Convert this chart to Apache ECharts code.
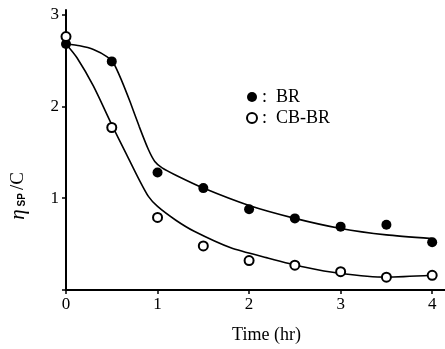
<!DOCTYPE html>
<html>
<head>
<meta charset="utf-8">
<script src="https://cdn.jsdelivr.net/npm/echarts@6/dist/echarts.min.js"></script>
<style>
  html, body { margin: 0; padding: 0; background: #fff; }
  #chart { width: 445px; height: 349px; }
</style>
</head>
<body>
<div id="chart"></div>
<script>
// measured points (time in hr, eta_sp/C)
const brPoints = [[0, 2.68], [0.5, 2.49], [1, 1.28], [1.5, 1.11], [2, 0.88], [2.5, 0.78], [3, 0.69], [3.5, 0.71], [4, 0.52]];
const cbbrPoints = [[0, 2.76], [0.5, 1.77], [1, 0.79], [1.5, 0.48], [2, 0.32], [2.5, 0.27], [3, 0.2], [3.5, 0.14], [4, 0.16]];

// hand drawn trend curves
const brCurve = [[0, 2.68], [0.15, 2.66], [0.3, 2.62], [0.45, 2.54], [0.52, 2.47], [0.6, 2.3], [0.7, 2.05], [0.8, 1.78], [0.9, 1.53], [0.97, 1.4], [1.05, 1.33], [1.2, 1.25], [1.5, 1.11], [2, 0.92], [2.5, 0.78], [3, 0.67], [3.5, 0.6], [4, 0.56]];
const cbbrCurve = [[0, 2.68], [0.12, 2.53], [0.3, 2.22], [0.5, 1.8], [0.65, 1.5], [0.8, 1.2], [0.9, 1.02], [1.0, 0.91], [1.2, 0.76], [1.4, 0.64], [1.8, 0.46], [2.2, 0.35], [2.6, 0.25], [3.0, 0.18], [3.5, 0.14], [4, 0.16]];

const xTicks = [0, 1, 2, 3, 4];
const yTicks = [0, 1, 2, 3];
const yLabels = [1, 2, 3];

const serif = '"Liberation Serif", "DejaVu Serif", serif';

const chart = echarts.init(document.getElementById('chart'));

const curveStyle = { color: '#000', width: 1.6 };

chart.setOption({
  animation: false,
  backgroundColor: '#fff',
  grid: { left: 66, right: 0, top: 10, bottom: 58 },
  legend: {
    orient: 'vertical',
    left: 241,
    top: 83,
    itemWidth: 10,
    itemHeight: 10,
    itemGap: 3,
    icon: 'circle',
    data: ['BR', 'CB-BR'],
    formatter: name => ':  ' + name,
    textStyle: { fontFamily: serif, fontSize: 18, lineHeight: 18, color: '#000' }
  },
  xAxis: {
    type: 'value',
    min: 0,
    max: 4.14,
    interval: 1,
    name: 'Time (hr)',
    nameLocation: 'middle',
    nameGap: 36,
    nameTextStyle: { fontFamily: serif, fontSize: 18, color: '#000', padding: [0, 0, 0, 22] },
    axisLine: { lineStyle: { color: '#000', width: 2 } },
    axisTick: { show: true, length: 4, customValues: xTicks, lineStyle: { color: '#000', width: 1.5 } },
    axisLabel: { customValues: xTicks, margin: 6, fontFamily: serif, fontSize: 17, color: '#000' },
    splitLine: { show: false }
  },
  yAxis: {
    type: 'value',
    min: 0,
    max: 3.05,
    interval: 1,
    axisLine: { show: true, lineStyle: { color: '#000', width: 2 } },
    axisTick: { show: true, length: 4, customValues: yTicks, lineStyle: { color: '#000', width: 1.5 } },
    axisLabel: { customValues: yLabels, margin: 7, fontFamily: serif, fontSize: 17, color: '#000' },
    splitLine: { show: false }
  },
  graphic: [{
    type: 'text',
    x: 18,
    y: 196,
    rotation: Math.PI / 2,
    style: {
      text: '{e|η}{s|SP}{c|/C}',
      align: 'center',
      verticalAlign: 'middle',
      rich: {
        e: { fontFamily: serif, fontStyle: 'italic', fontSize: 21, fill: '#000', padding: [0, 2, 0, 0] },
        s: { fontFamily: '"Liberation Sans", sans-serif', fontWeight: 'bold', fontSize: 10, fill: '#000', padding: [9, 3, 0, 1] },
        c: { fontFamily: serif, fontSize: 19, fill: '#000' }
      }
    }
  }],
  series: [
    {
      name: 'BR curve',
      type: 'line',
      data: brCurve,
      smooth: 0.2,
      showSymbol: false,
      lineStyle: curveStyle,
      z: 2
    },
    {
      name: 'CB-BR curve',
      type: 'line',
      data: cbbrCurve,
      smooth: 0.25,
      showSymbol: false,
      lineStyle: curveStyle,
      z: 2
    },
    {
      name: 'BR',
      type: 'scatter',
      data: brPoints,
      symbol: 'circle',
      symbolSize: 10,
      itemStyle: { color: '#000', borderColor: '#000', borderWidth: 0, opacity: 1 },
      z: 3
    },
    {
      name: 'CB-BR',
      type: 'scatter',
      data: cbbrPoints,
      symbol: 'circle',
      symbolSize: 9,
      itemStyle: { color: '#fff', borderColor: '#000', borderWidth: 2, opacity: 1 },
      z: 3
    }
  ]
});
</script>
</body>
</html>
